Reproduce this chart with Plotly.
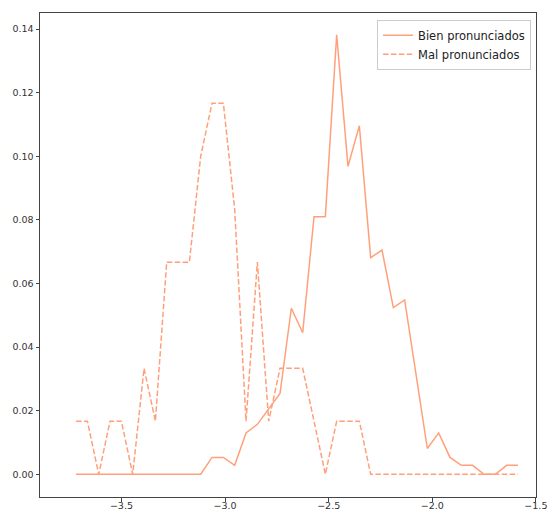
import plotly.graph_objects as go

x_vals = [-3.7190, -3.6643, -3.6096, -3.5550, -3.5003, -3.4456, -3.3909, -3.3362,
          -3.2816, -3.2269, -3.1722, -3.1175, -3.0628, -3.0082, -2.9535, -2.8988,
          -2.8441, -2.7894, -2.7348, -2.6801, -2.6254, -2.5707, -2.5160, -2.4614,
          -2.4067, -2.3520, -2.2973, -2.2426, -2.1880, -2.1333, -2.0786, -2.0239,
          -1.9692, -1.9146, -1.8599, -1.8052, -1.7505, -1.6958, -1.6412, -1.5865]

bien = [0, 0, 0, 0, 0, 0, 0, 0, 0, 0, 0, 0,
        0.0053, 0.0053, 0.0028, 0.0130, 0.0157, 0.0207, 0.0254, 0.0522,
        0.0445, 0.0810, 0.0810, 0.1382, 0.0968, 0.1096, 0.0681, 0.0705,
        0.0524, 0.0548, 0.0310, 0.0081, 0.0130, 0.0053, 0.0028, 0.0028,
        0, 0, 0.0028, 0.0028]

mal = [0.0167, 0.0167, 0, 0.0167, 0.0167, 0, 0.0333, 0.0167,
       0.0667, 0.0667, 0.0667, 0.1000, 0.1167, 0.1167, 0.0833, 0.0167,
       0.0667, 0.0167, 0.0333, 0.0333, 0.0333, 0.0167, 0, 0.0167,
       0.0167, 0.0167, 0, 0, 0, 0, 0, 0, 0, 0, 0, 0, 0, 0, 0, 0]

x_ticks = [-3.5, -3.0, -2.5, -2.0, -1.5]
x_tick_labels = ["−3.5", "−3.0", "−2.5", "−2.0", "−1.5"]

series_names = ["Bien pronunciados", "Mal pronunciados"]
color = "#FFA07A"
axis_color = "#444444"
font_family = "DejaVu Sans"

fig = go.Figure()
fig.add_trace(go.Scatter(x=x_vals, y=bien, mode="lines", name=series_names[0],
                         line=dict(color=color, width=1.5)))
fig.add_trace(go.Scatter(x=x_vals, y=mal, mode="lines", name=series_names[1],
                         line=dict(color=color, width=1.5, dash="5.5px,2.4px")))

axis_common = dict(showline=True, mirror=True, linecolor=axis_color, linewidth=1,
                   ticks="outside", ticklen=3.5, tickwidth=1, tickcolor=axis_color,
                   showgrid=False, zeroline=False, automargin=False,
                   ticklabeloverflow="allow",
                   tickfont=dict(family=font_family, size=9.5, color="#333333"))

fig.update_layout(
    width=547, height=512,
    margin=dict(l=40, r=11, t=13, b=15, autoexpand=False),
    paper_bgcolor="white", plot_bgcolor="white",
    showlegend=True,
    legend=dict(x=0.99, y=0.986, xanchor="right", yanchor="top",
                bgcolor="white", bordercolor="#cccccc", borderwidth=1,
                font=dict(family=font_family, size=11.5, color="#222222"),
                tracegroupgap=0),
    xaxis=dict(range=[-3.893, -1.4995], tickmode="array", tickvals=x_ticks,
               ticktext=x_tick_labels, ticklabelstandoff=-4, **axis_common),
    yaxis=dict(range=[-0.00715, 0.14504], dtick=0.02, tick0=0, tickformat=".2f",
               **axis_common),
)

fig.write_html("out.html")
